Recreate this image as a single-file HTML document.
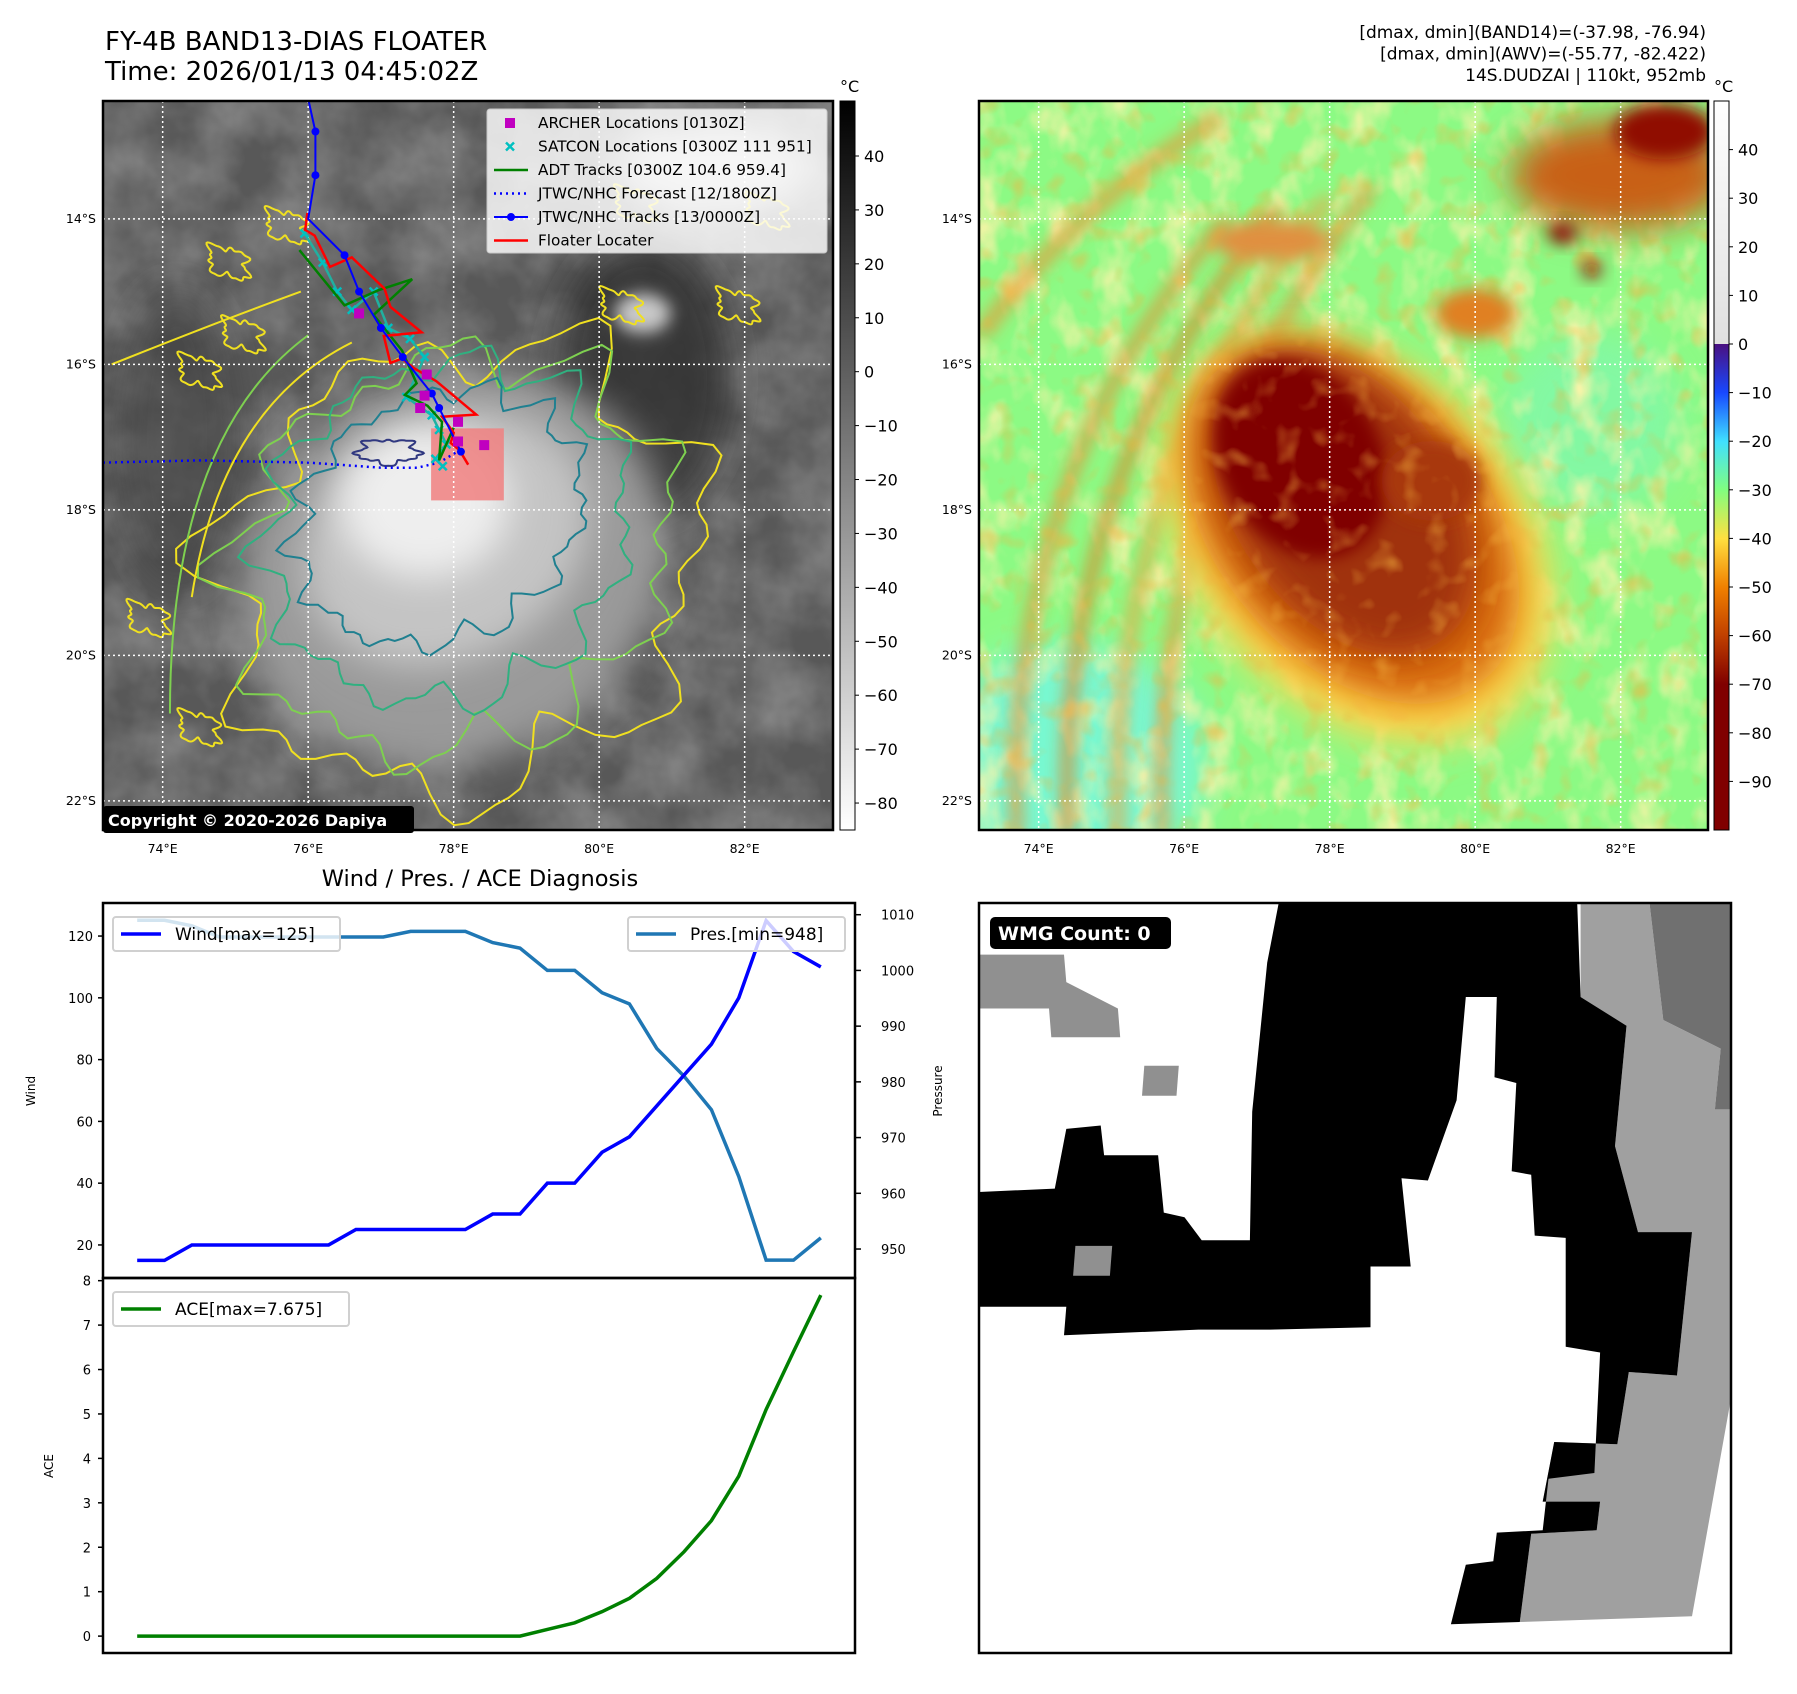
<!DOCTYPE html>
<html><head><meta charset="utf-8">
<style>
html,body{margin:0;padding:0;background:#fff;}
body{width:1797px;height:1690px;overflow:hidden;font-family:"DejaVu Sans","Liberation Sans",sans-serif;}
svg text{font-family:"DejaVu Sans","Liberation Sans",sans-serif;}
</style></head>
<body>
<svg id="root" width="1797" height="1690" viewBox="0 0 1797 1690" xmlns="http://www.w3.org/2000/svg">
<defs>
  <clipPath id="c1"><rect x="103" y="101" width="730" height="729"/></clipPath>
  <clipPath id="c2"><rect x="979" y="101" width="729" height="729"/></clipPath>
  <clipPath id="cw"><rect x="103" y="903" width="752" height="375"/></clipPath>
  <clipPath id="ca"><rect x="103" y="1278" width="752" height="375"/></clipPath>
  <filter id="noise1" x="0" y="0" width="100%" height="100%">
    <feTurbulence type="fractalNoise" baseFrequency="0.015" numOctaves="4" seed="3"/>
    <feColorMatrix type="matrix" values="0 0 0 0 1  0 0 0 0 1  0 0 0 0 1  0.9 0 0 0 -0.25"/>
  </filter>
  <filter id="noise2" x="0" y="0" width="100%" height="100%">
    <feTurbulence type="fractalNoise" baseFrequency="0.03 0.02" numOctaves="3" seed="7"/>
    <feColorMatrix type="matrix" values="0 0 0 0 1  0 0 0 0 0.9  0 0 0 0 0.4  2.2 0 0 0 -1.0"/>
  </filter>
  <filter id="noise3" x="0" y="0" width="100%" height="100%">
    <feTurbulence type="fractalNoise" baseFrequency="0.04" numOctaves="2" seed="11"/>
    <feColorMatrix type="matrix" values="0 0 0 0 0.9  0 0 0 0 0.45  0 0 0 0 0.05  2.4 0 0 0 -1.3"/>
  </filter>
  <filter id="blur8" x="-60%" y="-60%" width="220%" height="220%"><feGaussianBlur stdDeviation="8"/></filter>
  <filter id="blur18" x="-60%" y="-60%" width="220%" height="220%"><feGaussianBlur stdDeviation="18"/></filter>
  <linearGradient id="cb1" x1="0" y1="0" x2="0" y2="1">
    <stop offset="0" stop-color="#000"/><stop offset="1" stop-color="#fff"/>
  </linearGradient>
  <linearGradient id="cb2" x1="0" y1="0" x2="0" y2="1">
    <stop offset="0" stop-color="#ffffff"/>
    <stop offset="0.333" stop-color="#e0e0e0"/>
    <stop offset="0.333" stop-color="#4a1080"/>
    <stop offset="0.4" stop-color="#1848ff"/>
    <stop offset="0.467" stop-color="#40e0ff"/>
    <stop offset="0.533" stop-color="#80ff80"/>
    <stop offset="0.6" stop-color="#ffe040"/>
    <stop offset="0.667" stop-color="#f08000"/>
    <stop offset="0.733" stop-color="#c04000"/>
    <stop offset="0.8" stop-color="#800000"/>
    <stop offset="1" stop-color="#800000"/>
  </linearGradient>
</defs>
<g id="layer"></g>
</svg>
<script>
// ---- chart data ----
const windValues = [15,15,20,20,20,20,20,20,25,25,25,25,25,30,30,40,40,50,55,65,75,85,100,125,115,110];
const presValues = [1009,1009,1008,1006,1006,1006,1006,1006,1006,1006,1007,1007,1007,1005,1004,1000,1000,996,994,986,981,975,963,948,948,952];
const aceValues = [0,0,0,0,0,0,0,0,0,0,0,0,0,0,0,0.15,0.3,0.55,0.85,1.3,1.9,2.6,3.6,5.1,6.4,7.675];
const windTicks = [20,40,60,80,100,120];
const presTicks = [950,960,970,980,990,1000,1010];
const aceTicks = [0,1,2,3,4,5,6,7,8];
const lonTicks = [74,76,78,80,82];
const latTicks = [14,16,18,20,22];
const cb1Ticks = [40,30,20,10,0,-10,-20,-30,-40,-50,-60,-70,-80];
const cb2Ticks = [40,30,20,10,0,-10,-20,-30,-40,-50,-60,-70,-80,-90];
// ---- track data (lon E, lat S) ----
const jtwcLon = [76.0,76.1,76.1,76.0,76.5,76.7,77.0,77.3,77.7,77.8,78.1];
const jtwcLat = [12.35,12.8,13.4,14.0,14.5,15.0,15.5,15.9,16.4,16.6,17.2];
const fcstLon = [73.18,74.5,76.0,77.0,77.5,77.8,78.05];
const fcstLat = [17.35,17.32,17.35,17.42,17.42,17.35,17.2];
const floatLon = [75.99,75.96,76.09,76.30,76.60,77.05,77.13,77.56,77.04,77.13,77.29,77.45,77.76,78.31,77.84,78.0,77.96,78.08,78.2];
const floatLat = [13.92,14.15,14.23,14.66,14.53,14.96,15.21,15.56,15.61,15.98,15.92,16.05,16.23,16.69,16.72,16.94,17.08,17.18,17.38];
const adtLon = [75.88,76.5,76.97,77.43,76.9,77.29,77.49,77.33,77.64,77.84,77.8,78.0];
const adtLat = [14.43,15.19,14.98,14.83,15.32,15.81,16.26,16.42,16.57,16.79,17.32,16.87];
const satLon = [75.95,76.2,76.4,76.6,76.9,77.1,77.4,77.6,77.35,77.7,77.8,77.9,77.75,77.85];
const satLat = [14.2,14.6,15.0,15.25,15.0,15.5,15.65,15.9,16.45,16.7,16.9,17.1,17.3,17.4];
const archLon = [76.7,77.63,77.6,77.54,78.06,78.06,78.42];
const archLat = [15.3,16.14,16.43,16.6,16.79,17.06,17.11];

const NS='http://www.w3.org/2000/svg';
const L=document.getElementById('layer');
function mk(tag,attrs,parent,txt){const e=document.createElementNS(NS,tag);for(const k in attrs)e.setAttribute(k,attrs[k]);if(txt!==undefined)e.textContent=txt;(parent||L).appendChild(e);return e;}

const X1=lon=>103+(lon-73.18)*72.75, X2=lon=>979+(lon-73.18)*72.75, Y=lat=>101+(lat-12.38)*72.75;

let t;
t=mk('text',{x:105,y:50,'font-size':26,fill:'#000'},L,'FY-4B BAND13-DIAS FLOATER');


t=mk('text',{x:105,y:80,'font-size':26,fill:'#000'},L,'Time: 2026/01/13 04:45:02Z');


['[dmax, dmin](BAND14)=(-37.98, -76.94)','[dmax, dmin](AWV)=(-55.77, -82.422)','14S.DUDZAI | 110kt, 952mb'].forEach((s,i)=>{
  t=mk('text',{x:1706,y:38+i*21.5,'font-size':17,'text-anchor':'end',fill:'#000'},L,s);
  
  
});

function blob(cx,cy,rx,ry,rot,wob,seedA){let d='';for(let i=0;i<=120;i++){const a=i/120*Math.PI*2;const r=1+wob*Math.sin(a*seedA)+wob*0.6*Math.cos(a*(seedA+3))+wob*0.4*Math.sin(a*(2*seedA+5));const x=rx*r*Math.cos(a),y=ry*r*Math.sin(a);const c=Math.cos(rot),s=Math.sin(rot);d+=(i?'L':'M')+(cx+x*c-y*s).toFixed(1)+','+(cy+x*s+y*c).toFixed(1);}return d+'Z';}

// ---------- MAP 1 ----------
const m1=mk('g',{'clip-path':'url(#c1)'});


mk('rect',{x:103,y:101,width:730,height:729,fill:'#585858'},m1);
mk('rect',{x:103,y:101,width:730,height:729,filter:'url(#noise1)',opacity:0.5},m1);
mk('ellipse',{cx:X1(80.6),cy:Y(16.2),rx:90,ry:140,fill:'#2e2e2e',filter:'url(#blur18)',opacity:0.8},m1);
mk('ellipse',{cx:X1(74.2),cy:Y(17.0),rx:60,ry:150,fill:'#3c3c3c',filter:'url(#blur18)',opacity:0.6},m1);
mk('ellipse',{cx:X1(78.0),cy:Y(18.8),rx:220,ry:190,fill:'#9a9a9a',filter:'url(#blur18)',transform:`rotate(-30 ${X1(78.0)} ${Y(18.8)})`},m1);
mk('ellipse',{cx:X1(77.9),cy:Y(18.4),rx:150,ry:120,fill:'#c4c4c4',filter:'url(#blur18)',transform:`rotate(-30 ${X1(77.9)} ${Y(18.4)})`},m1);
mk('ellipse',{cx:X1(77.6),cy:Y(17.9),rx:85,ry:75,fill:'#eeeeee',filter:'url(#blur18)'},m1);
mk('ellipse',{cx:X1(81.6),cy:Y(13.3),rx:100,ry:45,fill:'#d0d0d0',filter:'url(#blur18)'},m1);
mk('ellipse',{cx:X1(80.6),cy:Y(15.3),rx:28,ry:20,fill:'#c8c8c8',filter:'url(#blur8)'},m1);
[[78.1,18.8,245,215,0.12,7,'#f0e020'],[78.0,18.6,225,190,0.1,9,'#7ed050'],[77.9,18.3,185,165,0.08,11,'#30b080'],[77.8,18.1,150,120,0.07,13,'#208090']].forEach(c=>{
  const p=mk('path',{d:blob(X1(c[0]),Y(c[1]),c[2],c[3],-0.5,c[4],c[5]),fill:'none',stroke:c[6],'stroke-width':2},m1);
  
  
});
mk('path',{d:blob(X1(77.1),Y(17.2),30,12,0,0.15,5),fill:'none',stroke:'#303880','stroke-width':2},m1);
[[74.9,14.6],[75.1,15.6],[74.5,16.1],[81.9,15.2],[80.3,15.2],[80.5,13.8],[82.3,13.9],[75.7,14.1],[73.8,19.5],[74.5,21.0]].forEach(b=>{
  mk('path',{d:blob(X1(b[0]),Y(b[1]),22,14,0.5,0.2,4),fill:'none',stroke:'#f0e020','stroke-width':2},m1);
});
mk('path',{d:`M${X1(73.3)},${Y(16.0)} Q${X1(74.8)},${Y(15.4)} ${X1(75.9)},${Y(15.0)}`,fill:'none',stroke:'#f0e020','stroke-width':2},m1);
mk('path',{d:`M${X1(74.4)},${Y(19.2)} Q${X1(74.8)},${Y(16.6)} ${X1(76.6)},${Y(15.7)}`,fill:'none',stroke:'#f0e020','stroke-width':2},m1);
mk('path',{d:`M${X1(74.1)},${Y(20.8)} Q${X1(74.1)},${Y(17.0)} ${X1(76.0)},${Y(15.6)}`,fill:'none',stroke:'#7ed050','stroke-width':2},m1);
const fb=mk('rect',{x:X1(77.69),y:Y(16.88),width:X1(78.69)-X1(77.69),height:Y(17.87)-Y(16.88),fill:'#f08080',opacity:0.85},m1);


lonTicks.forEach(v=>mk('line',{x1:X1(v),x2:X1(v),y1:101,y2:830,stroke:'#fff','stroke-width':1.5,'stroke-dasharray':'2 3'},m1));
latTicks.forEach(v=>mk('line',{x1:103,x2:833,y1:Y(v),y2:Y(v),stroke:'#fff','stroke-width':1.5,'stroke-dasharray':'2 3'},m1));
function pts(lons,lats){return lons.map((v,i)=>X1(v).toFixed(1)+','+Y(lats[i]).toFixed(1)).join(' ');}
let tr;
tr=mk('polyline',{points:pts(fcstLon,fcstLat),fill:'none',stroke:'#0000ff','stroke-width':2.5,'stroke-dasharray':'2 4'},m1);


tr=mk('polyline',{points:pts(satLon,satLat),fill:'none',stroke:'#20b0a0','stroke-width':2.5},m1);


satLon.forEach((v,i)=>{const x=X1(v),y=Y(satLat[i]);const g=mk('path',{d:`M${x-4},${y-4}L${x+4},${y+4}M${x-4},${y+4}L${x+4},${y-4}`,stroke:'#00c0c0','stroke-width':2.5},m1);});
tr=mk('polyline',{points:pts(adtLon,adtLat),fill:'none',stroke:'#008000','stroke-width':2.5},m1);


tr=mk('polyline',{points:pts(floatLon,floatLat),fill:'none',stroke:'#ff0000','stroke-width':2.5},m1);


tr=mk('polyline',{points:pts(jtwcLon,jtwcLat),fill:'none',stroke:'#0000ff','stroke-width':2},m1);


jtwcLon.forEach((v,i)=>{if(i===0||i===3)return;const c=mk('circle',{cx:X1(v),cy:Y(jtwcLat[i]),r:4,fill:'#0000ff'},m1);});
archLon.forEach((v,i)=>{const r=mk('rect',{x:X1(v)-5,y:Y(archLat[i])-5,width:10,height:10,fill:'#c000c0'},m1);});
const lg=mk('g',{});


mk('rect',{x:487,y:109,width:340,height:144,rx:3,fill:'#fff',opacity:0.82,stroke:'#ddd'},lg);
const legItems=['ARCHER Locations [0130Z]','SATCON Locations [0300Z 111 951]','ADT Tracks [0300Z 104.6 959.4]','JTWC/NHC Forecast [12/1800Z]','JTWC/NHC Tracks [13/0000Z]','Floater Locater'];
legItems.forEach((s,i)=>{const y=123+i*23.5;
  if(i===0)mk('rect',{x:505,y:y-5,width:10,height:10,fill:'#c000c0'},lg);
  if(i===1)mk('path',{d:`M506,${y-4}L514,${y+4}M506,${y+4}L514,${y-4}`,stroke:'#00c0c0','stroke-width':2.5},lg);
  if(i===2)mk('line',{x1:494,x2:528,y1:y,y2:y,stroke:'#008000','stroke-width':2.5},lg);
  if(i===3)mk('line',{x1:494,x2:528,y1:y,y2:y,stroke:'#0000ff','stroke-width':2.5,'stroke-dasharray':'2 4'},lg);
  if(i===4){mk('line',{x1:494,x2:528,y1:y,y2:y,stroke:'#0000ff','stroke-width':2},lg);mk('circle',{cx:511,cy:y,r:4,fill:'#0000ff'},lg);}
  if(i===5)mk('line',{x1:494,x2:528,y1:y,y2:y,stroke:'#ff0000','stroke-width':2.5},lg);
  const tx=mk('text',{x:538,y:y+5,'font-size':15.3,fill:'#000'},lg,s);
  
  
});
const cp=mk('g',{});


mk('rect',{x:103,y:806,width:311,height:27,rx:3,fill:'#000'},cp);
mk('text',{x:108,y:826,'font-size':16,'font-weight':'bold',fill:'#fff'},cp,'Copyright © 2020-2026 Dapiya');
mk('rect',{x:103,y:101,width:730,height:729,fill:'none',stroke:'#000','stroke-width':2.5});

// ---------- MAP 2 ----------
const m2=mk('g',{'clip-path':'url(#c2)'});


mk('rect',{x:979,y:101,width:729,height:729,fill:'#8cfa84'},m2);
mk('ellipse',{cx:X2(74.4),cy:Y(21.5),rx:140,ry:120,fill:'#78f8d0',filter:'url(#blur18)'},m2);
mk('ellipse',{cx:X2(81.6),cy:Y(16.8),rx:90,ry:90,fill:'#80f8b0',filter:'url(#blur18)',opacity:0.7},m2);
mk('rect',{x:979,y:101,width:729,height:729,filter:'url(#noise2)',opacity:0.95},m2);
// spiral bands (orange arcs on left)
[[74.0,'#e88a30'],[74.7,'#e07a20'],[75.4,'#f0a040'],[76.0,'#e89038']].forEach((b,i)=>{
  mk('path',{d:`M${X2(b[0]-0.3)},${Y(22.5)} Q${X2(b[0]-0.5)},${Y(17.5)} ${X2(b[0]+2.6)},${Y(14.0-i*0.15)}`,fill:'none',stroke:b[1],'stroke-width':12,filter:'url(#blur8)',opacity:0.8},m2);
});
mk('path',{d:`M${X2(73.2)},${Y(15.6)} Q${X2(74.5)},${Y(13.8)} ${X2(76.5)},${Y(12.6)}`,fill:'none',stroke:'#f09030','stroke-width':16,filter:'url(#blur8)',opacity:0.7},m2);
mk('ellipse',{cx:X2(78.4),cy:Y(18.4),rx:230,ry:165,fill:'#ffd850',filter:'url(#blur18)',transform:`rotate(50 ${X2(78.4)} ${Y(18.4)})`},m2);
mk('ellipse',{cx:X2(78.3),cy:Y(18.2),rx:205,ry:135,fill:'#d86a10',filter:'url(#blur18)',transform:`rotate(50 ${X2(78.3)} ${Y(18.2)})`},m2);
mk('ellipse',{cx:X2(78.2),cy:Y(17.9),rx:170,ry:110,fill:'#a03008',filter:'url(#blur18)',transform:`rotate(55 ${X2(78.2)} ${Y(17.9)})`},m2);
mk('ellipse',{cx:X2(77.6),cy:Y(17.3),rx:105,ry:80,fill:'#800000',filter:'url(#blur8)',transform:`rotate(60 ${X2(77.6)} ${Y(17.3)})`},m2);
mk('ellipse',{cx:X2(79.4),cy:Y(17.6),rx:50,ry:40,fill:'#a83808',filter:'url(#blur8)'},m2);
mk('rect',{x:979,y:101,width:729,height:729,filter:'url(#noise3)',opacity:0.6},m2);
mk('ellipse',{cx:X2(82.0),cy:Y(13.4),rx:110,ry:55,fill:'#c86018',filter:'url(#blur18)'},m2);
mk('ellipse',{cx:X2(82.6),cy:Y(12.8),rx:50,ry:28,fill:'#901000',filter:'url(#blur8)'},m2);
mk('ellipse',{cx:X2(81.2),cy:Y(14.2),rx:14,ry:10,fill:'#800000',filter:'url(#blur8)'},m2);
mk('ellipse',{cx:X2(81.6),cy:Y(14.7),rx:10,ry:8,fill:'#900800',filter:'url(#blur8)'},m2);
mk('ellipse',{cx:X2(80.0),cy:Y(15.3),rx:40,ry:25,fill:'#e08020',filter:'url(#blur8)'},m2);
mk('ellipse',{cx:X2(77.2),cy:Y(14.3),rx:60,ry:20,fill:'#e09040',filter:'url(#blur8)'},m2);
lonTicks.forEach(v=>mk('line',{x1:X2(v),x2:X2(v),y1:101,y2:830,stroke:'#fff','stroke-width':1.5,'stroke-dasharray':'2 3'},m2));
latTicks.forEach(v=>mk('line',{x1:979,x2:1708,y1:Y(v),y2:Y(v),stroke:'#fff','stroke-width':1.5,'stroke-dasharray':'2 3'},m2));
mk('rect',{x:979,y:101,width:729,height:729,fill:'none',stroke:'#000','stroke-width':2.5});

[[X1,103],[X2,979]].forEach(([XF,left])=>{
  lonTicks.forEach(v=>{const tx=mk('text',{x:XF(v),y:853,'font-size':12.5,'text-anchor':'middle'},L,v+'°E');});
  latTicks.forEach(v=>{const tx=mk('text',{x:left-7,y:Y(v)+4,'font-size':12.5,'text-anchor':'end'},L,v+'°S');});
});

function colorbar(x,grad,vmax,vmin,ticks,name){
  const g=mk('g',{});
  mk('rect',{x:x,y:101,width:15,height:729,fill:`url(#${grad})`,stroke:'#000','stroke-width':1},g);
  const cy=v=>101+(vmax-v)/(vmax-vmin)*729;
  ticks.forEach(v=>{mk('line',{x1:x+15,x2:x+19,y1:cy(v),y2:cy(v),stroke:'#000'},g);mk('text',{x:x+24,y:cy(v)+6,'font-size':16},g,v<0?'\u2212'+(-v):String(v));});
  mk('text',{x:x,y:92,'font-size':16},g,'°C');
}
colorbar(840,'cb1',50.2,-85,cb1Ticks,'ir-colorbar');
colorbar(1714,'cb2',50,-100,cb2Ticks,'wv-colorbar');

// ---------- WIND / PRES / ACE chart ----------
const cl=103,cr=855,xmin=-1.25,xmax=26.25;
const CX=i=>cl+(i-xmin)/(xmax-xmin)*(cr-cl);
const wTop=903,wBot=1278,aTop=1278,aBot=1653;
const WY=v=>wTop+(130.7-v)/(130.7-9.3)*(wBot-wTop);
const PY=v=>wTop+(1012.1-v)/(1012.1-944.8)*(wBot-wTop);
const AY=v=>aTop+(8.06-v)/(8.06+0.38)*(aBot-aTop);
t=mk('text',{x:480,y:886,'font-size':22.5,'text-anchor':'middle'},L,'Wind / Pres. / ACE Diagnosis');


const gw=mk('g',{'clip-path':'url(#cw)'});
let ln=mk('polyline',{points:presValues.map((v,i)=>CX(i)+','+PY(v)).join(' '),fill:'none',stroke:'#1f77b4','stroke-width':3.5},gw);


ln=mk('polyline',{points:windValues.map((v,i)=>CX(i)+','+WY(v)).join(' '),fill:'none',stroke:'#0000ff','stroke-width':3.5},gw);


const ga=mk('g',{'clip-path':'url(#ca)'});
ln=mk('polyline',{points:aceValues.map((v,i)=>CX(i)+','+AY(v)).join(' '),fill:'none',stroke:'#008000','stroke-width':3.5},ga);


function legend(x,y,w,color,label,name){const g=mk('g',{});
  mk('rect',{x:x,y:y,width:w,height:34,rx:3,fill:'#fff','fill-opacity':0.8,stroke:'#d0d0d0','stroke-width':2},g);
  mk('line',{x1:x+8,x2:x+48,y1:y+17,y2:y+17,stroke:color,'stroke-width':3.5},g);
  mk('text',{x:x+62,y:y+23,'font-size':17},g,label);}
legend(113,917,227,'#0000ff','Wind[max=125]','wind-legend');
legend(628,917,217,'#1f77b4','Pres.[min=948]','pressure-legend');
legend(113,1292,236,'#008000','ACE[max=7.675]','ace-legend');
mk('rect',{x:cl,y:wTop,width:cr-cl,height:wBot-wTop,fill:'none',stroke:'#000','stroke-width':2.5});
mk('rect',{x:cl,y:aTop,width:cr-cl,height:aBot-aTop,fill:'none',stroke:'#000','stroke-width':2.5});
windTicks.forEach(v=>{mk('line',{x1:cl-5,x2:cl,y1:WY(v),y2:WY(v),stroke:'#000','stroke-width':1.5});const tx=mk('text',{x:cl-10,y:WY(v)+5,'font-size':13,'text-anchor':'end'},L,v);});
presTicks.forEach(v=>{mk('line',{x1:cr,x2:cr+6,y1:PY(v),y2:PY(v),stroke:'#000','stroke-width':1.5});const tx=mk('text',{x:cr+26,y:PY(v)+5,'font-size':13},L,v);});
aceTicks.forEach(v=>{mk('line',{x1:cl-5,x2:cl,y1:AY(v),y2:AY(v),stroke:'#000','stroke-width':1.5});const tx=mk('text',{x:cl-12,y:AY(v)+5,'font-size':13,'text-anchor':'end'},L,v);});
t=mk('text',{x:35,y:1091,'font-size':12,'text-anchor':'middle',transform:'rotate(-90 35 1091)'},L,'Wind');

t=mk('text',{x:942,y:1091,'font-size':12,'text-anchor':'middle',transform:'rotate(-90 942 1091)'},L,'Pressure');

t=mk('text',{x:53,y:1466,'font-size':12,'text-anchor':'middle',transform:'rotate(-90 53 1466)'},L,'ACE');


// ---------- WMG panel ----------
const P=(dx,dy)=>(979+(dx-854)*752/655).toFixed(1)+','+(903+(dy-788)*750/654).toFixed(1);
const wp=mk('g',{});


mk('rect',{x:979,y:903,width:752,height:750,fill:'#fff'},wp);
function poly(arr,fill){mk('polygon',{points:arr.map(p=>P(p[0],p[1])).join(' '),fill:fill},wp);}
poly([[1378,788],[1438,788],[1450,890],[1500,915],[1495,968],[1509,968],[1509,1220],[1475,1410],[1325,1415],[1335,1338],[1392,1335],[1395,1310],[1345,1310],[1355,1258],[1410,1260],[1420,1197],[1462,1200],[1475,1075],[1428,1075],[1408,1000],[1418,895],[1378,870]],'#a0a0a0');
poly([[1438,788],[1509,788],[1509,968],[1495,968],[1500,915],[1450,890]],'#707070');
poly([[854,833],[928,833],[930,857],[975,880],[977,905],[917,905],[915,880],[854,880]],'#909090');
poly([[998,930],[1028,930],[1026,956],[996,956]],'#909090');
poly([[1115,788],[1375,788],[1378,870],[1418,895],[1408,1000],[1428,1075],[1475,1075],[1462,1200],[1420,1197],[1410,1260],[1355,1258],[1345,1310],[1395,1310],[1392,1335],[1335,1338],[1325,1415],[1265,1417],[1278,1365],[1302,1362],[1305,1337],[1345,1335],[1350,1290],[1390,1285],[1395,1180],[1365,1175],[1365,1080],[1338,1078],[1335,1025],[1318,1022],[1322,945],[1303,940],[1305,870],[1278,870],[1270,960],[1245,1030],[1222,1028],[1230,1105],[1195,1105],[1195,1158],[1107,1160],[1045,1160],[928,1165],[930,1140],[854,1140],[854,1040],[920,1037],[930,985],[960,982],[963,1008],[1010,1008],[1015,1058],[1033,1062],[1048,1082],[1090,1082],[1092,970],[1105,840]],'#000');
poly([[938,1087],[970,1087],[968,1113],[936,1113]],'#909090');
mk('rect',{x:979,y:903,width:752,height:750,fill:'none',stroke:'#000','stroke-width':2.5},wp);
const wl=mk('g',{});


mk('rect',{x:990,y:917,width:181,height:32,rx:5,fill:'#000'},wl);
mk('text',{x:998,y:940,'font-size':19,'font-weight':'bold',fill:'#fff'},wl,'WMG Count: 0');
</script>
</body></html>
